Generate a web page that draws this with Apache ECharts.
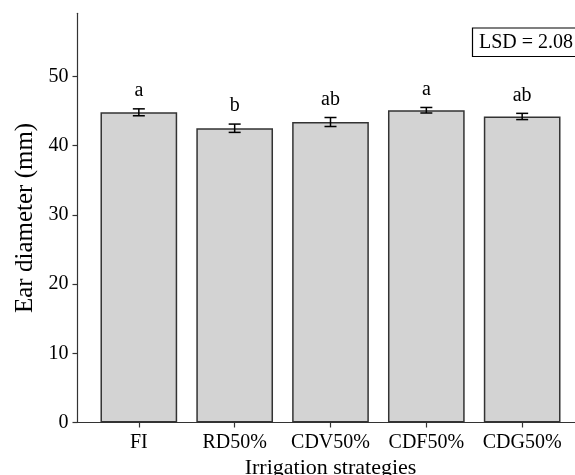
<!DOCTYPE html>
<html>
<head>
<meta charset="utf-8">
<script src="https://cdn.jsdelivr.net/npm/echarts@6/dist/echarts.min.js"></script>
<style>html,body{margin:0;padding:0;background:#fff}#c{width:575px;height:475px}</style>
</head>
<body>
<div id="c"></div>
<script>
const categories = ['FI', 'RD50%', 'CDV50%', 'CDF50%', 'CDG50%'];
const means = [44.8, 42.5, 43.4, 45.1, 44.2];
const errors = [0.5, 0.6, 0.65, 0.4, 0.45];
const letters = ['a', 'b', 'ab', 'a', 'ab'];
const yTicks = [0, 10, 20, 30, 40, 50];
const lsdText = 'LSD = 2.08';

const FONT = '"Liberation Serif", "Times New Roman", serif';
const chart = echarts.init(document.getElementById('c'), null, {renderer: 'canvas'});
const idx = categories.map((_, i) => i);

chart.setOption({
  animation: false,
  backgroundColor: '#fff',
  grid: {left: 77.5, top: 13.3, width: 506, height: 409.2, containLabel: false, outerBoundsMode: 'none'},
  xAxis: {
    type: 'value', min: -0.64, max: 4.64,
    name: 'Irrigation strategies', nameLocation: 'middle', nameGap: 33,
    nameTextStyle: {fontFamily: FONT, fontSize: 22, color: '#000'},
    axisLine: {show: true, onZero: false, lineStyle: {color: '#333', width: 1.2}},
    axisTick: {show: true, length: 5, lineStyle: {color: '#333', width: 1.2}, customValues: idx},
    axisLabel: {fontFamily: FONT, fontSize: 20, color: '#000', margin: 10, customValues: idx,
      formatter: v => categories[Math.round(v)]},
    splitLine: {show: false}
  },
  yAxis: {
    type: 'value', min: 0, max: 59.1,
    name: 'Ear diameter (mm)', nameLocation: 'middle', nameGap: 35,
    nameTextStyle: {fontFamily: FONT, fontSize: 25, color: '#000'},
    axisLine: {show: true, onZero: false, lineStyle: {color: '#333', width: 1.2}},
    axisTick: {show: true, length: 5, lineStyle: {color: '#333', width: 1.2}, customValues: yTicks},
    axisLabel: {fontFamily: FONT, fontSize: 20, color: '#000', margin: 9, customValues: yTicks},
    splitLine: {show: false}
  },
  series: [
    {
      type: 'bar', barWidth: 76.7,
      data: idx.map(i => [i, means[i]]),
      itemStyle: {color: '#d3d3d3', borderColor: '#333', borderWidth: 1.5},
      z: 2
    },
    {
      type: 'custom',
      data: idx.map(i => [i, means[i], errors[i]]),
      z: 5,
      renderItem: function (params, api) {
        const i = api.value(0), m = api.value(1), e = api.value(2);
        const hi = api.coord([i, m + e]);
        const lo = api.coord([i, m - e]);
        const x = hi[0], w = 6;
        const style = {stroke: '#000', lineWidth: 1.5};
        return {
          type: 'group',
          children: [
            {type: 'line', shape: {x1: x, y1: hi[1], x2: x, y2: lo[1]}, style},
            {type: 'line', shape: {x1: x - w, y1: hi[1], x2: x + w, y2: hi[1]}, style},
            {type: 'line', shape: {x1: x - w, y1: lo[1], x2: x + w, y2: lo[1]}, style},
            {type: 'text', x: x, y: hi[1] - 8,
              style: {text: letters[params.dataIndex], fontFamily: FONT, fontSize: 20, fill: '#000',
                align: 'center', verticalAlign: 'bottom'}}
          ]
        };
      }
    }
  ],
  graphic: [
    {type: 'rect', shape: {x: 472.5, y: 28, width: 120, height: 28.5},
      style: {fill: '#fff', stroke: '#000', lineWidth: 1.2}, z: 10},
    {type: 'text', x: 479, y: 42.3,
      style: {text: lsdText, fontFamily: FONT, fontSize: 20, fill: '#000', verticalAlign: 'middle'}, z: 11}
  ]
});
</script>
</body>
</html>
